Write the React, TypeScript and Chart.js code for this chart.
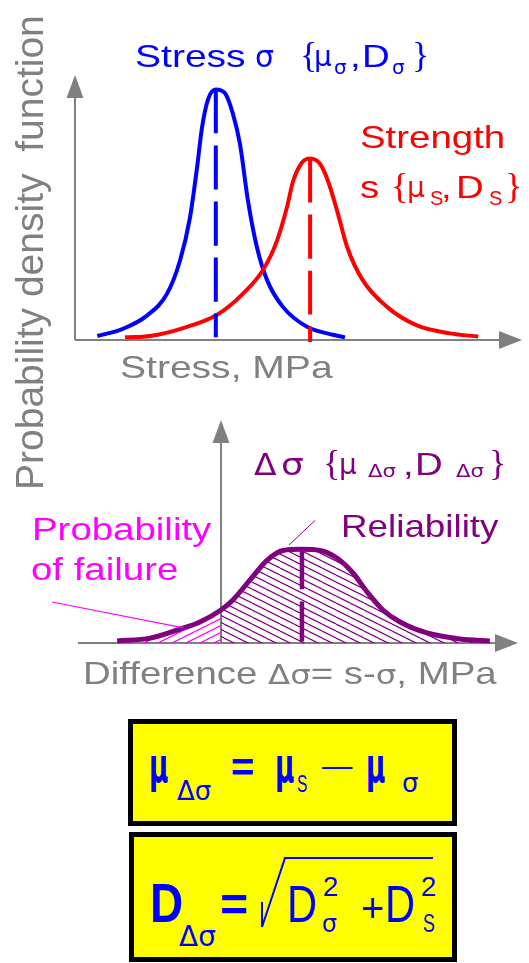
import React, { useEffect, useRef } from 'react';
import { Chart, registerables } from 'chart.js';

Chart.register(...registerables);

// ---------- Top chart data (probability density vs stress, relative units) ----------
const stressX = [5, 10.7, 16.1, 20.6, 23.5, 25.7, 27.3, 28.4, 29.8, 31.5, 33.6, 35.3, 36.9, 38.7, 40.7, 43.0, 46.5, 51.9, 57.7, 60.4];
const stressY = [1.5, 4.2, 9.2, 17.5, 30, 46, 65, 80, 91, 94.5, 93, 85.5, 74, 52.5, 35, 22.5, 12.5, 5, 2, 1];
const strengthX = [11.2, 16.8, 24.2, 31.8, 37.6, 42.1, 45.2, 47.4, 48.8, 50.8, 52.6, 54.8, 56.6, 58.6, 60.9, 64.4, 69.8, 76.5, 83.9, 90.2];
const strengthY = [1, 1.5, 4.5, 9.5, 17.5, 26.5, 37.5, 50, 60, 67, 68.5, 66.5, 60, 49, 35, 22.5, 12.5, 5.5, 2.5, 1.3];
const stressMeanLine = [{ x: 31.5, y: 94.5 }, { x: 31.5, y: 1 }];
const strengthMeanLine = [{ x: 52.6, y: 68.5 }, { x: 52.6, y: -0.8 }];

// ---------- Bottom chart data (density of the difference s - sigma) ----------
const diffX = [-23.6, -16.1, -10.0, -4.8, 0, 2.7, 6.6, 10.5, 14.1, 18.2, 22.5, 26.4, 30.0, 33.2, 36.8, 40.7, 46.8, 54.3, 61.1];
const diffY = [0.9, 2.2, 5.8, 9.4, 14.8, 19.3, 28.3, 37.2, 41.5, 42, 41.5, 38.0, 31.4, 22.9, 14.8, 9.4, 4.5, 1.8, 0.9];
const diffMeanLine = [{ x: 18.4, y: 42 }, { x: 18.4, y: 0 }];
const reliabilityPointer = [{ x: 21.4, y: 55 }, { x: 15.5, y: 44 }];
const failurePointer = [{ x: -38.4, y: 18.4 }, { x: -8.5, y: 6.8 }];

const BLUE = '#0000ff';
const RED = '#ff0000';
const PURPLE = '#800080';
const MAGENTA = '#ff00ff';
const GREY = '#808080';
const SANS = '"Liberation Sans", Arial, Helvetica, sans-serif';
const SERIF = '"Liberation Serif", "Times New Roman", serif';
const DV = '"DejaVu Sans", sans-serif';

const zip = (xs: number[], ys: number[]) => xs.map((x, i) => ({ x, y: ys[i] }));

const arrowAxes = {
  id: 'arrowAxes',
  beforeDatasetsDraw(chart: any) {
    const { ctx, scales } = chart;
    const xs = scales.x;
    const ys = scales.y;
    const oy = ys.getPixelForValue(0);
    const ox = xs.getPixelForValue(0);
    const xl = xs.getPixelForValue(xs.min);
    const xr = xs.getPixelForValue(xs.max);
    const yt = ys.getPixelForValue(ys.max);
    ctx.save();
    ctx.strokeStyle = GREY;
    ctx.fillStyle = GREY;
    ctx.lineWidth = 2;
    ctx.beginPath();
    ctx.moveTo(xl, oy);
    ctx.lineTo(xr - 18, oy);
    ctx.moveTo(ox, oy);
    ctx.lineTo(ox, yt + 18);
    ctx.stroke();
    ctx.beginPath();
    ctx.moveTo(xr, oy);
    ctx.lineTo(xr - 23, oy - 9);
    ctx.lineTo(xr - 23, oy + 9);
    ctx.closePath();
    ctx.fill();
    ctx.beginPath();
    ctx.moveTo(ox, yt);
    ctx.lineTo(ox - 8.5, yt + 23);
    ctx.lineTo(ox + 8.5, yt + 23);
    ctx.closePath();
    ctx.fill();
    ctx.restore();
  },
};

function hatch(color: string, dir: 1 | -1): CanvasPattern | string {
  const w = 14;
  const h = 7;
  const c = document.createElement('canvas');
  c.width = w;
  c.height = h;
  const g = c.getContext('2d');
  if (!g) return color;
  g.strokeStyle = color;
  g.lineWidth = 1.2;
  for (let k = -1; k <= 1; k++) {
    g.beginPath();
    if (dir === 1) {
      g.moveTo(0, k * h);
      g.lineTo(w, (k + 1) * h);
    } else {
      g.moveTo(0, (k + 1) * h);
      g.lineTo(w, k * h);
    }
    g.stroke();
  }
  return g.createPattern(c, 'repeat') || color;
}

const line = (data: any[], color: string, width: number, extra: any = {}) => ({
  data,
  borderColor: color,
  borderWidth: width,
  pointRadius: 0,
  fill: false,
  clip: false,
  cubicInterpolationMode: 'monotone',
  ...extra,
});

function baseOptions(xMin: number, xMax: number, padding: any) {
  return {
    animation: false,
    responsive: false,
    maintainAspectRatio: false,
    events: [],
    layout: { padding },
    plugins: { legend: { display: false }, tooltip: { enabled: false }, title: { display: false } },
    scales: {
      x: { type: 'linear', min: xMin, max: xMax, display: false },
      y: { type: 'linear', min: 0, max: 100, display: false },
    },
  };
}

type TP = { x: number; b: number; s: number; c: string; f?: 'sans' | 'serif' | 'dv'; sx?: number; w?: number; children: React.ReactNode };
function Txt({ x, b, s, c, f = 'sans', sx = 1, w = 400, children }: TP) {
  const k = f === 'serif' ? 0.8375 : 0.8465;
  const fam = f === 'sans' ? SANS : f === 'serif' ? SERIF : DV;
  return (
    <div
      style={{
        position: 'absolute',
        left: x,
        top: b - s * k,
        fontFamily: fam,
        fontSize: s,
        lineHeight: `${s}px`,
        color: c,
        whiteSpace: 'pre',
        fontWeight: w,
        transform: sx !== 1 ? `scaleX(${sx})` : undefined,
        transformOrigin: '0 0',
      }}
    >
      {children}
    </div>
  );
}

const Gk = ({ children, s }: { children: React.ReactNode; s: number }) => (
  <span style={{ fontFamily: DV, fontSize: s }}>{children}</span>
);

export default function App() {
  const topRef = useRef<HTMLCanvasElement>(null);
  const botRef = useRef<HTMLCanvasElement>(null);

  useEffect(() => {
    if (!topRef.current || !botRef.current) return;
    const top = new Chart(topRef.current, {
      type: 'line',
      data: {
        datasets: [
          line(strengthMeanLine, RED, 4, { borderDash: [44, 12] }),
          line(stressMeanLine, BLUE, 4, { borderDash: [44, 12] }),
          line(zip(strengthX, strengthY), RED, 4),
          line(zip(stressX, stressY), BLUE, 4),
        ],
      },
      options: baseOptions(0, 100, { left: 75, right: 7, top: 75, bottom: 60 }) as any,
      plugins: [arrowAxes],
    } as any);

    const curve = zip(diffX, diffY);
    const bottom = new Chart(botRef.current, {
      type: 'line',
      data: {
        datasets: [
          line(reliabilityPointer, PURPLE, 1, { cubicInterpolationMode: 'default' }),
          line(failurePointer, MAGENTA, 1.2, { cubicInterpolationMode: 'default' }),
          line(diffMeanLine, PURPLE, 4.5, { borderDash: [40, 12] }),
          line(curve, PURPLE, 5),
          line(curve.filter((p) => p.x >= 0), 'rgba(0,0,0,0)', 1, {
            fill: 'origin',
            backgroundColor: hatch(PURPLE, 1),
          }),
          line(curve.filter((p) => p.x <= 0), 'rgba(0,0,0,0)', 1, {
            fill: 'origin',
            backgroundColor: hatch(MAGENTA, -1),
          }),
        ],
      },
      options: baseOptions(-32.5, 67.5, { left: 78, right: 11, top: 20, bottom: 57 }) as any,
      plugins: [arrowAxes],
    } as any);

    return () => {
      top.destroy();
      bottom.destroy();
    };
  }, []);

  const box: React.CSSProperties = {
    position: 'absolute',
    boxSizing: 'border-box',
    border: '5px solid #000',
    background: '#ffff00',
  };

  return (
    <div style={{ position: 'absolute', left: 0, top: 0, width: 529, height: 963, overflow: 'hidden', background: '#fff' }}>
      <canvas ref={topRef} width={529} height={400} style={{ position: 'absolute', left: 0, top: 0, width: 529, height: 400 }} />
      <canvas ref={botRef} width={529} height={300} style={{ position: 'absolute', left: 0, top: 400, width: 529, height: 300 }} />

      {/* vertical axis title */}
      <div
        style={{
          position: 'absolute',
          left: 10,
          top: 490,
          fontFamily: SANS,
          fontSize: 39,
          lineHeight: '39px',
          color: GREY,
          whiteSpace: 'pre',
          transform: 'rotate(-90deg)',
          transformOrigin: '0 0',
        }}
      >
        Probability density  function
      </div>

      {/* Stress label */}
      <Txt x={135} b={67} s={32} c={BLUE} sx={1.22}>Stress</Txt>
      <Txt x={255} b={67} s={30} c={BLUE} f="dv">σ</Txt>
      <Txt x={300} b={67} s={36} c={BLUE} f="serif">{'{'}</Txt>
      <Txt x={314} b={67} s={28} c={BLUE} f="dv">μ</Txt>
      <Txt x={334} b={74} s={20} c={BLUE} f="dv">σ</Txt>
      <Txt x={350} b={67} s={32} c={BLUE} sx={1.2}>,</Txt>
      <Txt x={362} b={67} s={32} c={BLUE} sx={1.2}>D</Txt>
      <Txt x={392} b={74} s={20} c={BLUE} f="dv">σ</Txt>
      <Txt x={412} b={67} s={36} c={BLUE} f="serif">{'}'}</Txt>

      {/* Strength label */}
      <Txt x={360} b={148} s={32} c={RED} sx={1.2}>Strength</Txt>
      <Txt x={360} b={198} s={32} c={RED} sx={1.2}>s</Txt>
      <Txt x={391} b={198} s={36} c={RED} f="serif">{'{'}</Txt>
      <Txt x={407} b={198} s={28} c={RED} f="dv">μ</Txt>
      <Txt x={430} b={205} s={20} c={RED}>S</Txt>
      <Txt x={441} b={198} s={32} c={RED} sx={1.2}>,</Txt>
      <Txt x={456} b={198} s={32} c={RED} sx={1.2}>D</Txt>
      <Txt x={489} b={205} s={20} c={RED}>S</Txt>
      <Txt x={505} b={198} s={36} c={RED} f="serif">{'}'}</Txt>

      <Txt x={120} b={378} s={32} c={GREY} sx={1.22}>Stress, MPa</Txt>

      {/* Difference label */}
      <Txt x={254} b={475} s={30} c={PURPLE} f="dv" sx={1.1}>Δ</Txt>
      <Txt x={281} b={475} s={30} c={PURPLE} f="dv" sx={1.2}>σ</Txt>
      <Txt x={323} b={475} s={36} c={PURPLE} f="serif">{'{'}</Txt>
      <Txt x={339} b={475} s={28} c={PURPLE} f="dv">μ</Txt>
      <Txt x={368} b={477} s={17} c={PURPLE} f="dv" sx={1.25}>Δσ</Txt>
      <Txt x={403} b={475} s={32} c={PURPLE} sx={1.2}>,</Txt>
      <Txt x={415} b={475} s={32} c={PURPLE} sx={1.2}>D</Txt>
      <Txt x={456} b={477} s={17} c={PURPLE} f="dv" sx={1.25}>Δσ</Txt>
      <Txt x={489} b={475} s={36} c={PURPLE} f="serif">{'}'}</Txt>

      <Txt x={341} b={537} s={32} c={PURPLE} sx={1.15}>Reliability</Txt>
      <Txt x={32} b={540} s={32} c={MAGENTA} sx={1.2}>Probability</Txt>
      <Txt x={31} b={580} s={32} c={MAGENTA} sx={1.2}>of failure</Txt>

      <Txt x={83} b={684} s={32} c={GREY} sx={1.2}>
        Difference <Gk s={27}>Δσ</Gk>= s-<Gk s={27}>σ</Gk>, MPa
      </Txt>

      {/* Formula boxes */}
      <div style={{ ...box, left: 128, top: 719, width: 329, height: 107 }} />
      <div style={{ ...box, left: 129, top: 832, width: 328, height: 130 }} />

      <Txt x={149} b={782} s={48} c={BLUE} f="dv" w={700} sx={0.55}>μ</Txt>
      <Txt x={177} b={800} s={26} c={BLUE} f="dv">Δσ</Txt>
      <Txt x={231} b={781} s={40} c={BLUE} w={700}>=</Txt>
      <Txt x={275} b={782} s={48} c={BLUE} f="dv" w={700} sx={0.55}>μ</Txt>
      <Txt x={297} b={792} s={24} c={BLUE} sx={0.65}>S</Txt>
      <Txt x={322} b={776} s={32} c={BLUE} sx={0.95}>—</Txt>
      <Txt x={366} b={782} s={48} c={BLUE} f="dv" w={700} sx={0.55}>μ</Txt>
      <Txt x={402} b={792} s={26} c={BLUE} f="dv">σ</Txt>

      <Txt x={150} b={922} s={56} c={BLUE} w={700} sx={0.82}>D</Txt>
      <Txt x={179} b={947} s={28} c={BLUE} f="dv">Δσ</Txt>
      <Txt x={220} b={922} s={48} c={BLUE} w={700}>=</Txt>
      <svg width={529} height={963} style={{ position: 'absolute', left: 0, top: 0, pointerEvents: 'none' }}>
        <polyline points="262,902 262,927 285,858 433,858" fill="none" stroke={BLUE} strokeWidth={2} />
      </svg>
      <Txt x={287} b={922} s={52} c={BLUE} sx={0.8}>D</Txt>
      <Txt x={323} b={897} s={28} c={BLUE}>2</Txt>
      <Txt x={322} b={932} s={24} c={BLUE} f="dv">σ</Txt>
      <Txt x={361} b={922} s={40} c={BLUE}>+</Txt>
      <Txt x={385} b={922} s={52} c={BLUE} sx={0.8}>D</Txt>
      <Txt x={421} b={897} s={28} c={BLUE}>2</Txt>
      <Txt x={423} b={932} s={26} c={BLUE} sx={0.7}>S</Txt>
    </div>
  );
}
